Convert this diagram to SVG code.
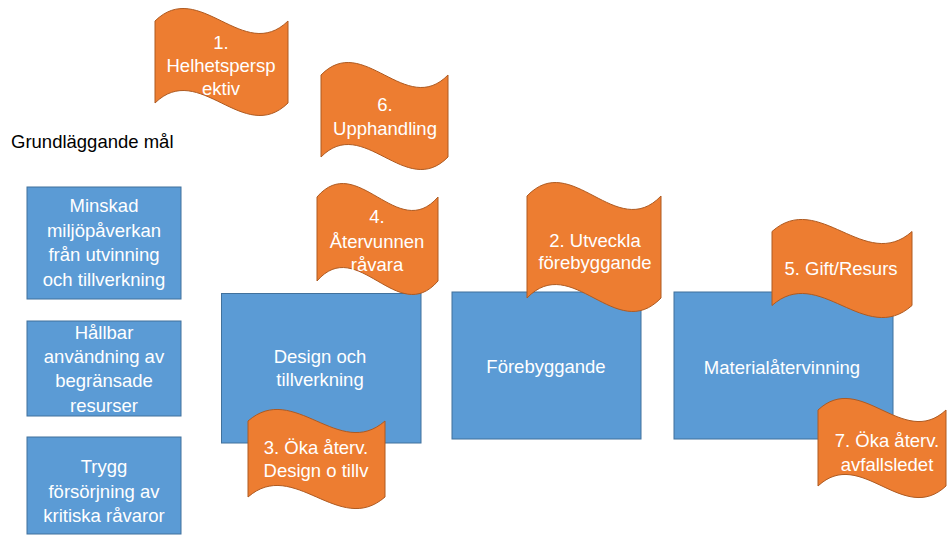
<svg xmlns="http://www.w3.org/2000/svg" width="948" height="535" viewBox="0 0 948 535">
<style>
.box{fill:#5B9BD5;stroke:#41719C;stroke-width:1}
.flag{fill:#ED7D31;stroke:#AE5A21;stroke-width:1}
.t{font-family:"Liberation Sans",Arial,sans-serif;font-size:18.5px;fill:#FFFFFF;text-anchor:middle}
.h{font-family:"Liberation Sans",Arial,sans-serif;font-size:18.5px;fill:#000000}
</style>
<rect width="948" height="535" fill="#FFFFFF"/>
<g id="connectors"></g>
<g id="title"><text class="h" x="11" y="148">Grundläggande mål</text></g>
<g id="goal1">
<rect class="box" x="27" y="187" width="154" height="112"/>
<text class="t" x="104" y="212">Minskad</text>
<text class="t" x="104" y="236.5">miljöpåverkan</text>
<text class="t" x="104" y="261">från utvinning</text>
<text class="t" x="104" y="285.5">och tillverkning</text>
</g>
<g id="goal2">
<rect class="box" x="27" y="321" width="154" height="95"/>
<text class="t" x="104" y="338.5">Hållbar</text>
<text class="t" x="104" y="362.5">användning av</text>
<text class="t" x="104" y="387">begränsade</text>
<text class="t" x="104" y="412">resurser</text>
</g>
<g id="goal3">
<rect class="box" x="27" y="437" width="154" height="97"/>
<text class="t" x="104" y="473">Trygg</text>
<text class="t" x="104" y="497.5">försörjning av</text>
<text class="t" x="104" y="522">kritiska råvaror</text>
</g>
<g id="design">
<rect class="box" x="221.5" y="293.5" width="199.5" height="149.5"/>
<text class="t" x="320" y="362.5">Design och</text>
<text class="t" x="320" y="386">tillverkning</text>
</g>
<g id="forebyggande">
<rect class="box" x="452" y="292" width="189" height="147"/>
<text class="t" x="546" y="372.5">Förebyggande</text>
</g>
<g id="material">
<rect class="box" x="674" y="292" width="219" height="147"/>
<text class="t" x="782" y="373.5">Materialåtervinning</text>
</g>
<g id="flag1">
<path class="flag" d="M155,21 C199.3,-22.3 243.7,64.3 288,21 L288,103 C243.7,146.3 199.3,59.7 155,103 Z"/>
<text class="t" x="221" y="48.5">1.</text>
<text class="t" x="221" y="71.5">Helhetspersp</text>
<text class="t" x="221" y="94.5">ektiv</text>
</g>
<g id="flag6">
<path class="flag" d="M321,75 C363.3,31.7 405.7,118.3 448,75 L448,157 C405.7,200.3 363.3,113.7 321,157 Z"/>
<text class="t" x="385" y="111">6.</text>
<text class="t" x="385" y="135">Upphandling</text>
</g>
<g id="flag4">
<path class="flag" d="M317,197 C357.3,150.3 397.7,243.7 438,197 L438,281 C397.7,327.7 357.3,234.3 317,281 Z"/>
<text class="t" x="377" y="223">4.</text>
<text class="t" x="377" y="247.5">Återvunnen</text>
<text class="t" x="377" y="270.5">råvara</text>
</g>
<g id="flag2">
<path class="flag" d="M527,196 C571.7,149.3 616.3,242.7 661,196 L661,298 C616.3,344.7 571.7,251.3 527,298 Z"/>
<text class="t" x="595" y="246.5">2. Utveckla</text>
<text class="t" x="595" y="269">förebyggande</text>
</g>
<g id="flag5">
<path class="flag" d="M772,231.5 C818.7,189.8 865.3,273.2 912,231.5 L912,305.5 C865.3,347.2 818.7,263.8 772,305.5 Z"/>
<text class="t" x="841" y="274.5">5. Gift/Resurs</text>
</g>
<g id="flag3">
<path class="flag" d="M248,421 C293.7,381 339.3,461 385,421 L385,497 C339.3,537 293.7,457 248,497 Z"/>
<text class="t" x="316" y="453.5">3. Öka återv.</text>
<text class="t" x="316" y="476.5">Design o tillv</text>
</g>
<g id="flag7">
<path class="flag" d="M818,410 C860.7,370 903.3,450 946,410 L946,486 C903.3,526 860.7,446 818,486 Z"/>
<text class="t" x="887" y="446.5">7. Öka återv.</text>
<text class="t" x="887" y="471">avfallsledet</text>
</g>
</svg>
